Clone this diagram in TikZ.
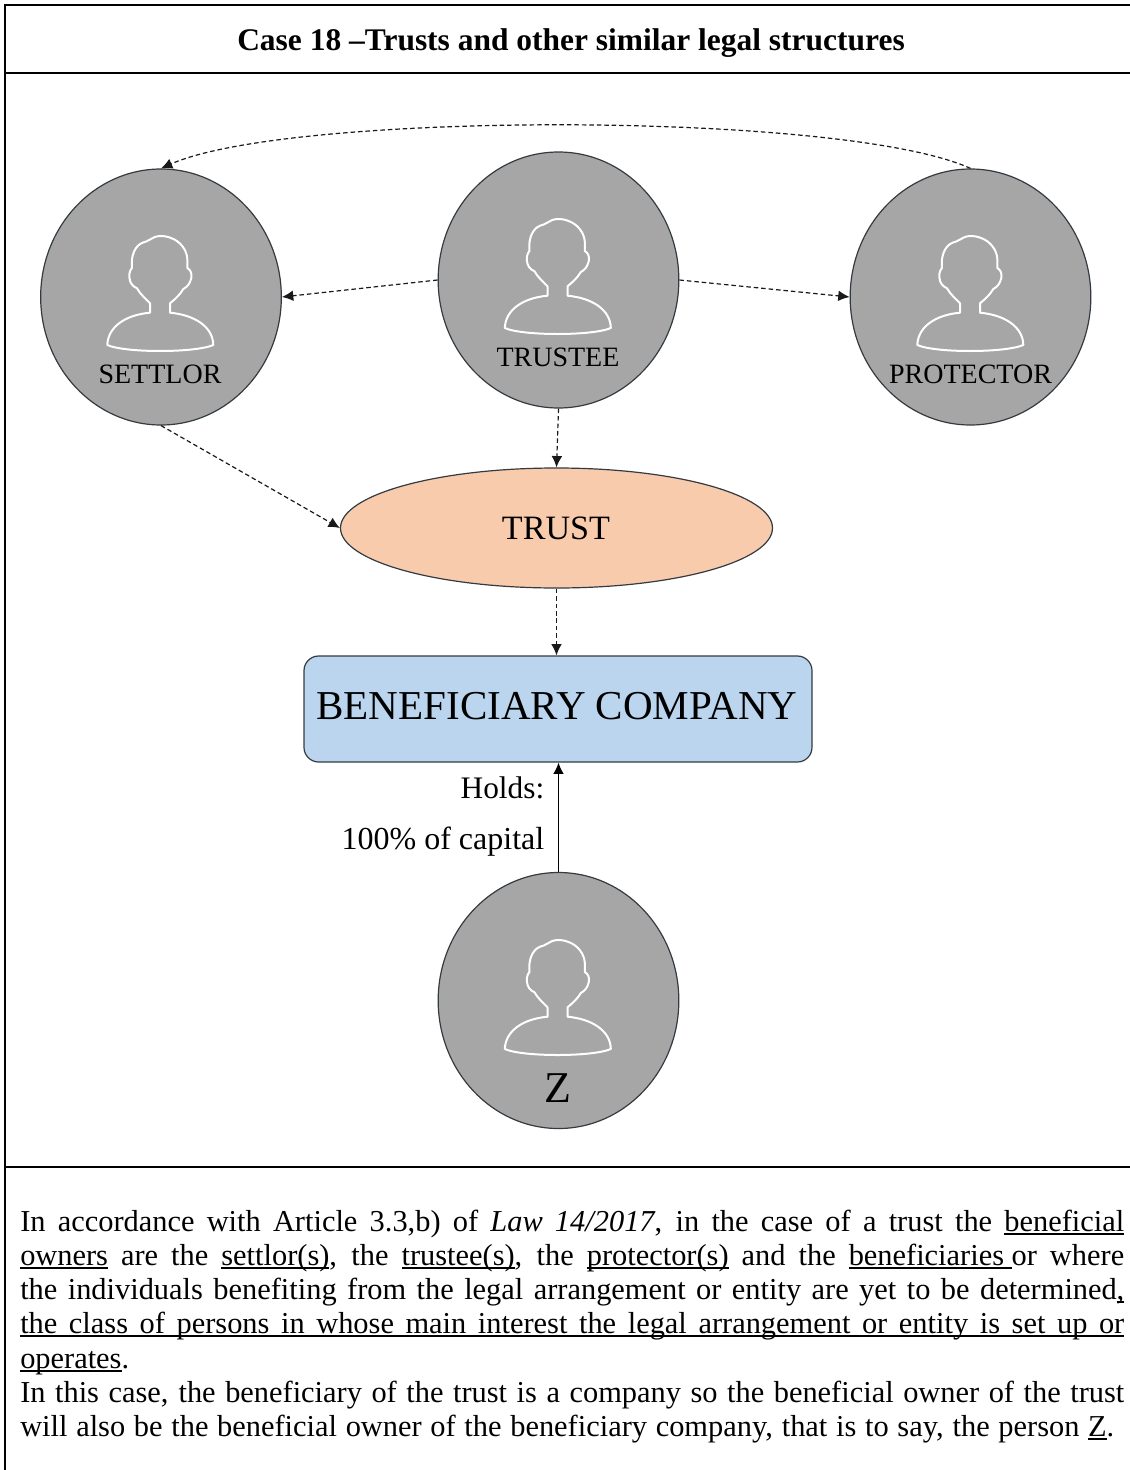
\documentclass[tikz,border=0pt]{standalone}
\usepackage{fontspec}
\setmainfont{Liberation Serif}
\usetikzlibrary{shapes.geometric,arrows.meta}
\definecolor{discgray}{HTML}{A6A6A6}
\definecolor{peach}{HTML}{F8CBAD}
\definecolor{skyfill}{HTML}{BBD5EE}
\definecolor{outline}{HTML}{333A40}
\newcommand{\fsz}[1]{\fontsize{#1}{#1}\selectfont}
\newsavebox{\ulbox}
\newcommand{\ulword}[1]{\sbox{\ulbox}{#1}\rlap{\rule[-2.7pt]{\wd\ulbox}{0.9pt}}\usebox{\ulbox}}
\newcommand{\bodyline}[2]{\hbox to #1{#2}}
\tikzset{
  x=0.75pt,y=-0.75pt,
  person disc/.style={draw=outline,line width=0.9pt,fill=discgray,ellipse,inner sep=0pt,minimum width=180.5pt,minimum height=192pt},
  frame line/.style={line width=2.1pt,black},
  link/.style={line width=0.9pt,black!90,dash pattern=on 3.4pt off 2.2pt,-{Latex[length=8.5pt,width=8pt]}},
  solid link/.style={line width=0.95pt,black,-{Latex[length=8.5pt,width=8pt]}},
  name label/.style={anchor=base,inner sep=0pt,font=\fsz{21}},
  body/.style={anchor=base west,inner sep=0pt,font=\fsz{22.8}},
  pics/person icon/.style={code={
    \draw[white,line width=1.5pt,line join=round]
      (-10,15.7) -- (-10,6.3) .. controls (-14,2) and (-20,-3) .. (-23,-8.7)
      .. controls (-28,-11) and (-30,-14) .. (-30.7,-20)
      .. controls (-31,-25) and (-29,-28) .. (-28,-29)
      .. controls (-29,-38) and (-27,-48) .. (-20,-53)
      .. controls (-15,-56) and (-12,-55) .. (-9,-58)
      .. controls (-5,-61.5) and (4,-62) .. (11,-59)
      .. controls (20,-56) and (27,-47) .. (27.3,-38)
      .. controls (27.5,-34) and (27,-31) .. (27.3,-29)
      .. controls (31,-27) and (32,-23) .. (31.3,-19)
      .. controls (30,-13) and (27,-10) .. (23.3,-8)
      .. controls (20,-2) and (14,3) .. (10,6.3)
      -- (10,15.7) .. controls (35,18) and (53,30) .. (53.3,48)
      .. controls (35,56) and (-35,56) .. (-52.7,48)
      .. controls (-52,30) and (-35,18) .. (-10,15.7) -- cycle;
  }}
}
\begin{document}
\begin{tikzpicture}
\useasboundingbox (0,0) rectangle (1130,1470);
% frame
\coordinate (ftl) at (5,5); \coordinate (ftr) at (1130,5);
\coordinate (fbl) at (5,1470);
\coordinate (d1l) at (5,73); \coordinate (d1r) at (1130,73);
\coordinate (d2l) at (5,1167); \coordinate (d2r) at (1130,1167);
\draw[frame line] (fbl) -- (ftl) -- (ftr);
\draw[frame line] (d1l) -- (d1r);
\draw[frame line] (d2l) -- (d2r);
\node[anchor=base,inner sep=0pt,font=\fsz{23.6}\bfseries] (title) at (571,51) {Case 18 –Trusts and other similar legal structures};
% persons
\node[person disc] (settlor) at (161,297) {};
\node[person disc] (trustee) at (558.5,280) {};
\node[person disc] (protector) at (970.5,297) {};
\node[person disc] (z) at (558.5,1000.5) {};
\pic at (160,297) {person icon};
\pic at (557.5,280) {person icon};
\pic at (970,297) {person icon};
\pic at (557.5,1001) {person icon};
\node[name label] (lsettlor) at (160,383) {SETTLOR};
\node[name label] (ltrustee) at (558,366) {TRUSTEE};
\node[name label] (lprotector) at (970.5,383) {PROTECTOR};
\node[name label,font=\fsz{33}] (lz) at (558,1102) {Z};
% trust and company
\node[draw=outline,line width=0.9pt,fill=peach,ellipse,inner sep=0pt,minimum width=324pt,minimum height=90pt] (trust) at (556.5,528) {};
\node[name label,font=\fsz{25.6}] (ltrust) at (556,539) {TRUST};
\node[draw=outline,line width=0.9pt,fill=skyfill,rectangle,rounded corners=11pt,inner sep=0pt,minimum width=381pt,minimum height=79.5pt] (company) at (558,709) {};
\node[name label,font=\fsz{30.8}] (lcompany) at (557,719.5) {BENEFICIARY COMPANY};
% connectors
\draw[link] (protector.north) .. controls (845,111) and (290,111) .. (settlor.north);
\draw[link] (trustee.west) -- (settlor.east);
\draw[link] (trustee.east) -- (protector.west);
\draw[link] (trustee.south) -- (trust.north);
\draw[link] (settlor.south) -- (trust.west);
\draw[link] (trust.south) -- (trust.south |- company.north);
\draw[solid link] (z.north) -- (z.north |- company.south);
\node[anchor=base east,inner sep=0pt,font=\fsz{23.5}] (holds) at (544.5,798) {Holds:};
\node[anchor=base east,inner sep=0pt,font=\fsz{24}] (capital) at (544.5,849) {100\% of capital};
% body text
\node[body] (b1) at (20,1231) {\bodyline{828pt}{In accordance with Article 3.3,b) of \textit{Law 14/2017}, in the case of a trust the \ulword{beneficial}}};
\node[body] (b2) at (20,1265) {\bodyline{828pt}{\ulword{owners} are the \ulword{settlor(s)}, the \ulword{trustee(s)}, the \ulword{protector(s)} and the \ulword{beneficiaries\ }or where}};
\node[body] (b3) at (20,1299) {\bodyline{828pt}{the individuals benefiting from the legal arrangement or entity are yet to be determined\ulword{,}}};
\node[body] (b4) at (20,1333) {\ulword{\bodyline{828pt}{the class of persons in whose main interest the legal arrangement or entity is set up or}}};
\node[body] (b5) at (20,1368) {\ulword{operates}.};
\node[body] (b6) at (20,1402) {\bodyline{828pt}{In this case, the beneficiary of the trust is a company so the beneficial owner of the trust}};
\node[body] (b7) at (20,1436) {\bodyline{820.5pt}{will also be the beneficial owner of the beneficiary company, that is to say, the person \ulword{Z}.}};
\end{tikzpicture}
\end{document}
